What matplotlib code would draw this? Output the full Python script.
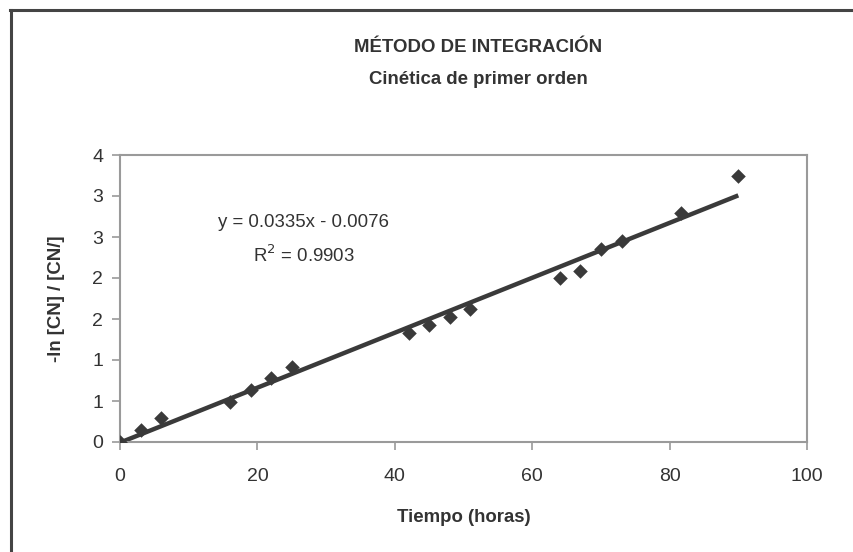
import matplotlib.pyplot as plt
import numpy as np
from matplotlib.ticker import FixedLocator, FuncFormatter

plt.rcParams['font.family'] = ['Liberation Sans', 'DejaVu Sans']

# tiempo (horas) y -ln [CN]/[CNi]
tiempo = [0, 3, 6, 16, 19, 22, 25, 42, 45, 48, 51, 64, 67, 70, 73, 81.6, 90]
ln_cn = [0.0, 0.146, 0.29, 0.49, 0.64, 0.78, 0.91, 1.33, 1.43, 1.52, 1.62,
         2.0, 2.09, 2.35, 2.45, 2.79, 3.25]

# recta de ajuste y = m x + b
pendiente = 0.0335
ordenada = -0.0076
r2 = 0.9903

gris = '#3a3a3a'
texto = '#333333'

fig = plt.figure(figsize=(8.54, 5.52), dpi=100)
ax = fig.add_axes([120 / 854, 1 - 442 / 552, 687 / 854, 287 / 552])

x_fit = np.array([0, max(tiempo)])
ax.plot(x_fit, pendiente * x_fit + ordenada, color=gris, lw=3.2, zorder=2,
        solid_capstyle='butt')
ax.scatter(tiempo, ln_cn, marker='D', s=55, color=gris, zorder=3, linewidths=0)

ax.set_xlim(0, 100)
ax.set_ylim(0, 3.5)
ax.xaxis.set_major_locator(FixedLocator([0, 20, 40, 60, 80, 100]))
ax.yaxis.set_major_locator(FixedLocator(np.arange(0, 3.51, 0.5)))
# etiquetas del eje y redondeadas a enteros, como en Excel
ax.yaxis.set_major_formatter(FuncFormatter(lambda v, p: '%d' % int(np.floor(v + 0.5))))

for s in ax.spines.values():
    s.set_color('#9a9a9a')
    s.set_linewidth(1.5)
ax.tick_params(axis='both', colors='#9a9a9a', length=6, width=1.2,
               labelcolor=texto, labelsize=14)
ax.tick_params(axis='x', pad=13)
ax.tick_params(axis='y', pad=6)

ax.set_xlabel('Tiempo (horas)', fontsize=13.4, fontweight='bold', color=texto,
              labelpad=17)
ax.set_ylabel('-ln [CN] / [CN/]', fontsize=13.4, fontweight='bold', color=texto,
              labelpad=20)

ax.text(0.267, 0.765, 'y = %.4fx - %.4f' % (pendiente, -ordenada),
        transform=ax.transAxes, ha='center', va='center', fontsize=13.4,
        color=texto)
ax.text(0.267, 0.65, 'R$^2$ = %.4f' % r2, transform=ax.transAxes,
        ha='center', va='center', fontsize=13.4, color=texto)

fig.text(478 / 854, 1 - 47 / 552, 'MÉTODO DE INTEGRACIÓN', ha='center',
         va='center', fontsize=13.4, fontweight='bold', color=texto)
fig.text(478 / 854, 1 - 79 / 552, 'Cinética de primer orden', ha='center',
         va='center', fontsize=13.4, fontweight='bold', color=texto)

# marco exterior (solo izquierda y arriba visibles)
fig.add_artist(plt.Line2D([11 / 854, 11 / 854], [0, 1 - 10 / 552],
                          transform=fig.transFigure, color='#444444', lw=2.2))
fig.add_artist(plt.Line2D([10 / 854, 1], [1 - 10 / 552, 1 - 10 / 552],
                          transform=fig.transFigure, color='#444444', lw=2.2))

fig.savefig('out.png', dpi=100)
